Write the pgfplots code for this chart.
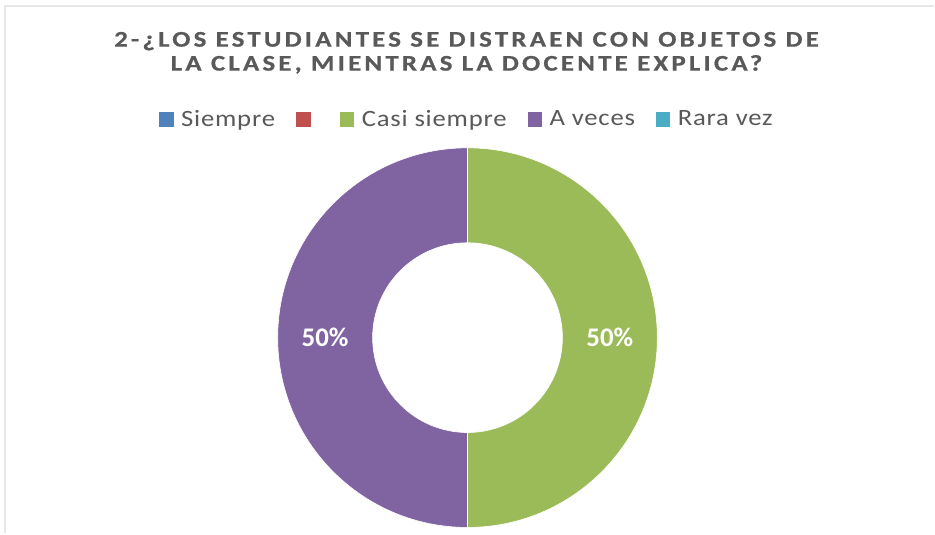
\documentclass[border=0pt]{standalone}
\usepackage{pgfplots}
\usepackage{pgfplotstable}
\pgfplotsset{compat=1.18}
\usepackage{fontspec}
\setmainfont{Carlito}
\definecolor{cSiempre}{HTML}{4F81BD}
\definecolor{cBlank}{HTML}{C0504D}
\definecolor{cCasi}{HTML}{9BBB59}
\definecolor{cAveces}{HTML}{8064A2}
\definecolor{cRara}{HTML}{4BACC6}
\definecolor{txt}{HTML}{595959}
\definecolor{frame}{HTML}{E8E8E8}

\pgfplotstableread[col sep=comma]{
name,value
Siempre,0
Blank,0
Casi siempre,50
A veces,50
Rara vez,0
}\donutdata

\pgfplotstablegetelem{0}{value}\of\donutdata\let\vS\pgfplotsretval
\pgfplotstablegetelem{1}{value}\of\donutdata\let\vB\pgfplotsretval
\pgfplotstablegetelem{2}{value}\of\donutdata\let\vC\pgfplotsretval
\pgfplotstablegetelem{3}{value}\of\donutdata\let\vA\pgfplotsretval
\pgfplotstablegetelem{4}{value}\of\donutdata\let\vR\pgfplotsretval
\pgfmathsetmacro\total{\vS+\vB+\vC+\vA+\vR}
% cumulative angles, starting at 12 o'clock, clockwise
\pgfmathsetmacro\aS{90}
\pgfmathsetmacro\aB{\aS-360*(\vS/\total)}
\pgfmathsetmacro\aC{\aB-360*(\vB/\total)}
\pgfmathsetmacro\aA{\aC-360*(\vC/\total)}
\pgfmathsetmacro\aR{\aA-360*(\vA/\total)}
\pgfmathsetmacro\aE{\aR-360*(\vR/\total)}
\pgfmathsetmacro\mC{(\aC+\aA)/2}
\pgfmathsetmacro\mA{(\aA+\aR)/2}
\pgfmathsetmacro\pC{100*(\vC/\total)}
\pgfmathsetmacro\pA{100*(\vA/\total)}

\def\cx{468}
\def\cy{196}
\def\Rout{190}
\def\Rin{95}
\newcommand\donutslice[3]{%
  \fill[#1,draw=white,line width=0.6bp] (axis cs:\cx,\cy) ++(#2:\Rout bp)
    arc[start angle=#2,end angle=#3,radius=\Rout bp]
    -- ++(#3+180:\Rout bp-\Rin bp)
    arc[start angle=#3,end angle=#2,radius=\Rin bp] -- cycle;}

\newfontfamily\titlefont[LetterSpace=12,FakeBold=0.6]{Carlito}
\newfontfamily\legfont[LetterSpace=3]{Carlito}
\newcommand\wide[2][1.14]{\scalebox{#1}[1]{#2}}

\pgfplotsset{
  sqlegend/.style={legend image code/.code={\fill[##1] (0bp,-7bp) rectangle (13.5bp,7bp);}},
}

\begin{document}
\begin{tikzpicture}
\begin{axis}[
  width=935bp, height=534bp, scale only axis,
  xmin=0, xmax=935, ymin=0, ymax=534,
  hide axis, clip=false,
  sqlegend,
  legend columns=-1,
  legend style={at={(axis cs:466.5,415)}, anchor=center, draw=none, fill=none,
    font=\legfont\fontsize{23.5}{26}\selectfont, text=txt,
    nodes={inner xsep=0pt},
    /tikz/every even column/.append style={column sep=21bp},
    /tikz/every odd column/.append style={column sep=8bp}},
]
\path (axis cs:0,0) rectangle (axis cs:935,534);
\draw[frame, line width=2bp] (axis cs:5,0) -- (axis cs:5,528) -- (axis cs:935,528);

\addlegendimage{cSiempre}\addlegendentry{\wide{Siempre}}
\addlegendimage{cBlank}\addlegendentry{\hspace{2bp}}
\addlegendimage{cCasi}\addlegendentry{\wide{Casi siempre}}
\addlegendimage{cAveces}\addlegendentry{\wide{A veces}}
\addlegendimage{cRara}\addlegendentry{\wide{Rara vez}}

\donutslice{cCasi}{\aC}{\aA}
\donutslice{cAveces}{\aA}{\aR}

\node[text=white, font=\bfseries\fontsize{27}{30}\selectfont]
  at (axis cs:{\cx+142.5*cos(\mC)},{\cy+142.5*sin(\mC)}) {\pgfmathprintnumber[fixed,precision=0,assume math mode=true]{\pC}\%};
\node[text=white, font=\bfseries\fontsize{27}{30}\selectfont]
  at (axis cs:{\cx+142.5*cos(\mA)},{\cy+142.5*sin(\mA)}) {\pgfmathprintnumber[fixed,precision=0,assume math mode=true]{\pA}\%};

\node[text=txt, font=\titlefont\bfseries\fontsize{22.5}{24}\selectfont, anchor=base, inner sep=0pt]
  at (axis cs:467,487.3) {\wide[1.2]{2-¿LOS ESTUDIANTES SE DISTRAEN CON OBJETOS DE}};
\node[text=txt, font=\titlefont\bfseries\fontsize{22.5}{24}\selectfont, anchor=base, inner sep=0pt]
  at (axis cs:467,463.3) {\wide[1.2]{LA CLASE, MIENTRAS LA DOCENTE EXPLICA?}};
\end{axis}
\end{tikzpicture}
\end{document}
